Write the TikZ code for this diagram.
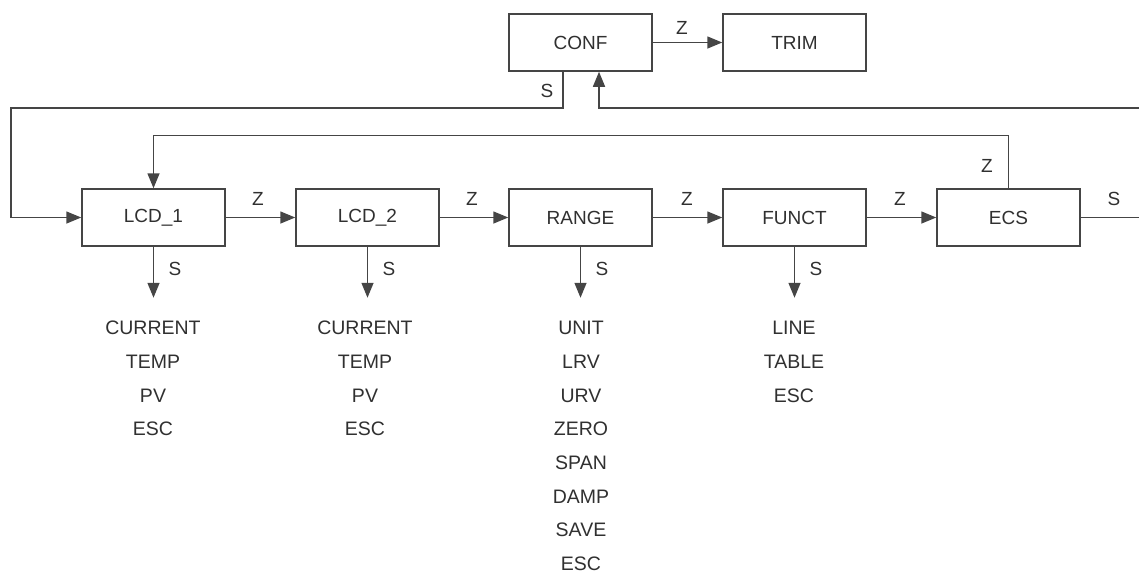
\documentclass[tikz,border=0pt]{standalone}
\usepackage{fontspec}
\setmainfont{Liberation Sans}
\usetikzlibrary{arrows.meta,calc}
\definecolor{ln}{HTML}{454545}
\definecolor{tx}{HTML}{303030}
\begin{document}
\begin{tikzpicture}[x=1pt,y=-1pt,
  every node/.style={text=tx,font=\fontsize{19}{22}\selectfont},
  box/.style={draw=ln,line width=1.5pt,minimum width=143pt,minimum height=57pt,inner sep=0pt},
  arr/.style={draw=ln,line width=1.5pt,-{Triangle[length=15pt,width=12pt]}},
  lab/.style={inner sep=0pt},
  item/.style={inner sep=0pt,font=\fontsize{19.5}{22}\selectfont}]
\useasboundingbox (0,0) rectangle (1139,574);
% boxes
\node[box] (CONF) at (580.5,42.5) {CONF};
\node[box] (TRIM) at (794.5,42.5) {TRIM};
\node[box] (LCD1) at (153.5,217.5) {LCD\_1};
\node[box] (LCD2) at (367.5,217.5) {LCD\_2};
\node[box] (RANGE) at (580.5,217.5) {RANGE};
\node[box] (FUNCT) at (794.5,217.5) {FUNCT};
\node[box] (ECS) at (1008.5,217.5) {ECS};
% horizontal Z arrows
\draw[arr] (CONF) -- (TRIM);
\draw[arr] (LCD1) -- (LCD2);
\draw[arr] (LCD2) -- (RANGE);
\draw[arr] (RANGE) -- (FUNCT);
\draw[arr] (FUNCT) -- (ECS);
\node[lab] (zc) at (682,28) {Z};
\node[lab] (z1) at (258,199) {Z};
\node[lab] (z2) at (472,199) {Z};
\node[lab] (z3) at (687,199) {Z};
\node[lab] (z4) at (900,199) {Z};
% feedback loops
\coordinate (lc) at (11,108);
\coordinate (rc) at (1141,108);
\draw[arr] ([xshift=-17.5pt]CONF.south) |- (lc) |- (LCD1.west);
\node[lab] (sc) at (547,91) {S};
\draw[arr] (ECS.east) -| (rc) -| ([xshift=18.5pt]CONF.south);
\node[lab] (se) at (1114,199) {S};
\draw[arr] (ECS.north) -- ++(0,-53) -| (LCD1.north);
\node[lab] (ze) at (987,166) {Z};
% down arrows
\foreach \b in {LCD1,LCD2,RANGE,FUNCT}{
  \coordinate (\b-t) at ($(\b.south)+(0,51)$);
  \draw[arr] (\b.south) -- (\b-t);
  \node[lab] (\b-s) at ($(\b.south)+(21.5,22)$) {S};
}
% lists
\foreach \t [count=\i from 0] in {CURRENT,TEMP,PV,ESC}
  \node[item] (a\i) at (153,328+33.7*\i) {\t};
\foreach \t [count=\i from 0] in {CURRENT,TEMP,PV,ESC}
  \node[item] (b\i) at (365,328+33.7*\i) {\t};
\foreach \t [count=\i from 0] in {UNIT,LRV,URV,ZERO,SPAN,DAMP,SAVE,ESC}
  \node[item] (c\i) at (581,328+33.7*\i) {\t};
\foreach \t [count=\i from 0] in {LINE,TABLE,ESC}
  \node[item] (d\i) at (794,328+33.7*\i) {\t};
\end{tikzpicture}
\end{document}
